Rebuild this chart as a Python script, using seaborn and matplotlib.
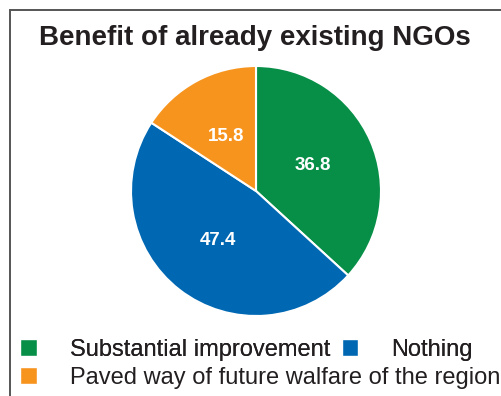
import matplotlib
matplotlib.use("Agg")
import matplotlib.pyplot as plt
from matplotlib.patches import Patch, Rectangle
import seaborn as sns

categories = ["Substantial improvement", "Nothing", "Paved way of future walfare of the region"]
shares = [36.8, 47.4, 15.8]
colors = ["#078F48", "#0068B3", "#F7941E"]

sns.set_theme(style="white")
plt.rcParams["font.family"] = ["Liberation Sans", "DejaVu Sans"]

W, H = 502, 396
fig = plt.figure(figsize=(W / 100, H / 100), dpi=100)
fig.patch.set_facecolor("white")

# open frame: left and top edges only reach the visible area
fig.patches.append(Rectangle((10 / W, -0.1), 1.2, (H - 10) / H + 0.1,
                             transform=fig.transFigure, fill=False,
                             edgecolor="#555555", linewidth=1.4))

fig.text(255 / W, 1 - 38 / H, "Benefit of already existing NGOs",
         ha="center", va="center", fontsize=20, fontweight="bold", color="#231F20")

cx, cy, r = 256, 191, 125
ax = fig.add_axes([(cx - r) / W, 1 - (cy + r) / H, 2 * r / W, 2 * r / H])
wedges, texts, autotexts = ax.pie(
    shares, colors=colors, startangle=90, counterclock=False,
    autopct=lambda p: f"{p:.1f}", pctdistance=0.5,
    wedgeprops=dict(edgecolor="white", linewidth=1.5),
    textprops=dict(color="white", fontsize=13.5, fontweight="bold"),
)
ax.set_aspect("equal")
ax.set_xlim(-1, 1)
ax.set_ylim(-1, 1)
ax.axis("off")

fs = 17
row1 = fig.legend(handles=[Patch(facecolor=colors[0], label=categories[0]),
                           Patch(facecolor=colors[1], label=categories[1])],
                  loc="center left", bbox_to_anchor=(20 / W, 1 - 350 / H),
                  ncol=2, frameon=False, fontsize=fs, borderpad=0, borderaxespad=0,
                  handlelength=0.7, handleheight=0.7, handletextpad=1.4,
                  columnspacing=0.5, labelcolor="#231F20")
fig.add_artist(row1)
fig.legend(handles=[Patch(facecolor=colors[2], label=categories[2])],
           loc="center left", bbox_to_anchor=(20 / W, 1 - 378 / H),
           frameon=False, fontsize=fs, borderpad=0, borderaxespad=0,
           handlelength=0.7, handleheight=0.7, handletextpad=1.4,
           labelcolor="#231F20")

fig.savefig("out.png", dpi=100)
